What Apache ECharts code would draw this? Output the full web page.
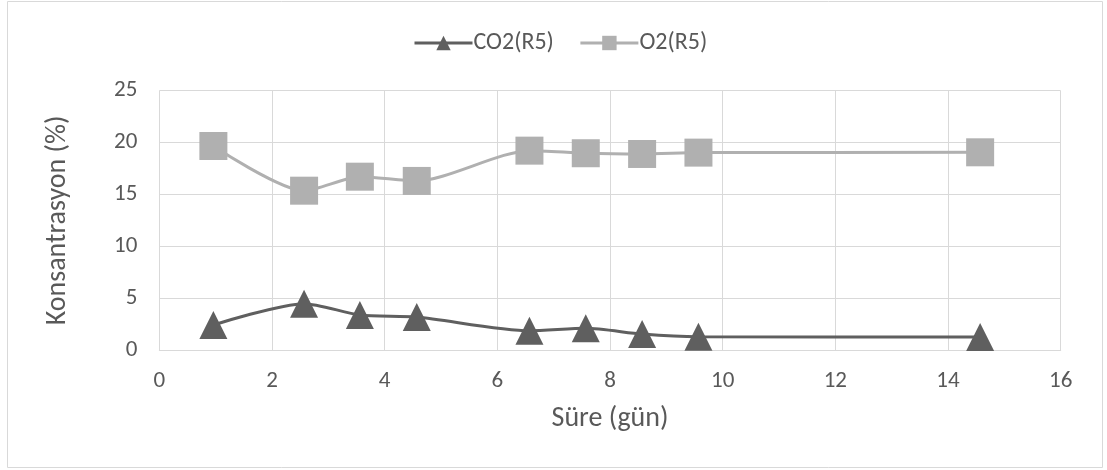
<!DOCTYPE html>
<html>
<head>
<meta charset="utf-8">
<script src="https://cdn.jsdelivr.net/npm/echarts@6/dist/echarts.min.js"></script>
<style>html,body{margin:0;padding:0;background:#fff}#c{width:1107px;height:470px}</style>
</head>
<body>
<div id="c"></div>
<script>
const days = [0.96, 2.57, 3.56, 4.57, 6.57, 7.57, 8.57, 9.57, 14.57];
const co2 = [2.41, 4.47, 3.37, 3.18, 1.86, 2.09, 1.54, 1.28, 1.25];
const o2 = [19.67, 15.36, 16.71, 16.30, 19.22, 18.97, 18.90, 19.03, 19.06];
const seriesNames = ['CO2(R5)', 'O2(R5)'];
const xTitle = 'Süre (gün)';
const yTitle = 'Konsantrasyon (%)';

const font = "Carlito, 'Open Sans', sans-serif";
const txt = '#595959';
const chart = echarts.init(document.getElementById('c'));
const pair = (xs, ys) => xs.map((x, i) => [x, ys[i]]);
chart.setOption({
  animation: false,
  textStyle: { fontFamily: font },
  graphic: [{
    type: 'rect', shape: { x: 7.5, y: 1.5, width: 1095, height: 466 },
    style: { fill: 'none', stroke: '#d9d9d9', lineWidth: 1 }, silent: true
  }],
  legend: {
    top: 26, left: 408, itemWidth: 58, itemHeight: 18, itemGap: 25,
    lineStyle: { width: 3 },
    textStyle: { color: txt, fontSize: 24, fontFamily: font, padding: [0, 0, 0, -4] },
    data: seriesNames
  },
  grid: { left: 159.3, right: 46.3, top: 90.7, bottom: 120 },
  xAxis: {
    type: 'value', min: 0, max: 16, interval: 2,
    name: xTitle, nameLocation: 'middle', nameGap: 55,
    nameTextStyle: { color: txt, fontSize: 28, fontFamily: font },
    axisLine: { show: true, lineStyle: { color: '#d9d9d9', width: 1 } },
    axisTick: { show: false },
    axisLabel: { color: txt, fontSize: 23, margin: 20, fontFamily: font },
    splitLine: { show: true, lineStyle: { color: '#d9d9d9', width: 1 } }
  },
  yAxis: {
    type: 'value', min: 0, max: 25, interval: 5,
    name: yTitle, nameLocation: 'middle', nameGap: 87,
    nameTextStyle: { color: txt, fontSize: 28, fontFamily: font },
    axisLine: { show: false },
    axisTick: { show: false },
    axisLabel: { color: txt, fontSize: 23, margin: 22, fontFamily: font },
    splitLine: { show: true, lineStyle: { color: '#d9d9d9', width: 1 } }
  },
  series: [
    {
      name: seriesNames[0], type: 'line', data: pair(days, co2), smooth: 0.25,
      symbol: 'triangle', symbolSize: 28, z: 3,
      lineStyle: { color: '#5f5f5f', width: 3 },
      itemStyle: { color: '#5f5f5f' }
    },
    {
      name: seriesNames[1], type: 'line', data: pair(days, o2), smooth: 0.25,
      symbol: 'rect', symbolSize: 28, z: 2,
      lineStyle: { color: '#b0b0b0', width: 3 },
      itemStyle: { color: '#b0b0b0' }
    }
  ]
});
</script>
</body>
</html>
